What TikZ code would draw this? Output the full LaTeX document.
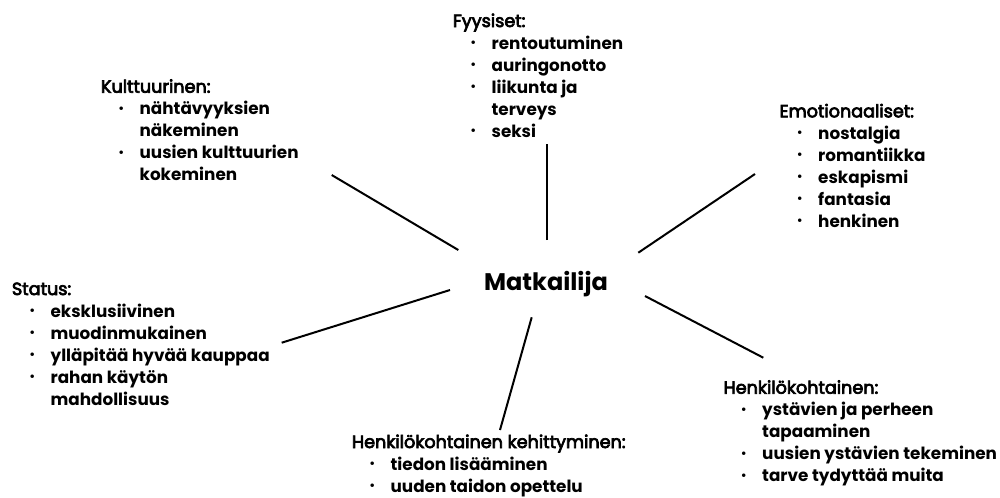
\documentclass[tikz,border=0pt]{standalone}
\usepackage{fontspec}
\usepackage{graphicx,tikz}
\setmainfont{Poppins}
\newfontfamily\hdrfont{Poppins}[FakeBold=4]

\newcommand{\hd}[1]{{\hdrfont\fontsize{13.2}{16.5}\selectfont #1}}
\newcommand{\bul}[1]{\makebox[29pt][l]{\hspace{13pt}\raisebox{0.15ex}{\scalebox{0.85}{\textbullet}}}\textbf{#1}}
\newcommand{\cnt}[1]{\hspace{29pt}\textbf{#1}}

\tikzset{
  group/.style={anchor=base west, align=left, inner sep=0pt,
    font=\fontsize{12.6}{16.5}\selectfont},
  spoke/.style={line width=1.5pt}
}

\begin{document}
\begin{tikzpicture}[x=0.75pt,y=-0.75pt]
  \useasboundingbox (0,0) rectangle (1000,497);

  % Centre
  \node[anchor=base, inner sep=0pt, font=\fontsize{18}{20}\selectfont\bfseries] (matkailija) at (546,290) {Matkailija};

  % Groups (placed at the baseline of their last line)
  \node[group] (fyysiset) at (452.7,137) {\hd{Fyysiset:}\\ \bul{rentoutuminen}\\ \bul{auringonotto}\\ \bul{liikunta ja}\\ \cnt{terveys}\\ \bul{seksi}};
  \node[group] (kulttuuri) at (100.7,180.7) {\hd{Kulttuurinen:}\\ \bul{nähtävyyksien}\\ \cnt{näkeminen}\\ \bul{uusien kulttuurien}\\ \cnt{kokeminen}};
  \node[group] (emot) at (779.3,227.3) {\hd{Emotionaaliset:}\\ \bul{nostalgia}\\ \bul{romantiikka}\\ \bul{eskapismi}\\ \bul{fantasia}\\ \bul{henkinen}};
  \node[group] (status) at (11.7,405) {\hd{Status:}\\ \bul{eksklusiivinen}\\ \bul{muodinmukainen}\\ \bul{ylläpitää hyvää kauppaa}\\ \bul{rahan käytön}\\ \cnt{mahdollisuus}};
  \node[group] (henk) at (723.3,481.7) {\hd{Henkilökohtainen:}\\ \bul{ystävien ja perheen}\\ \cnt{tapaaminen}\\ \bul{uusien ystävien tekeminen}\\ \bul{tarve tydyttää muita}};
  \node[group] (kehitys) at (351.7,492) {\hd{Henkilökohtainen kehittyminen:}\\ \bul{tiedon lisääminen}\\ \bul{uuden taidon opettelu}};

  % Spoke ends
  \coordinate (c-fyy) at (547.3,240);   \coordinate (fyy) at (547.3,144);
  \coordinate (c-kul) at (458.3,250);   \coordinate (kul) at (331.7,175);
  \coordinate (c-emo) at (638.3,252.7); \coordinate (emo) at (755,174);
  \coordinate (c-sta) at (450,290);     \coordinate (sta) at (281.7,342.7);
  \coordinate (c-keh) at (531.7,317.3); \coordinate (keh) at (500,430);
  \coordinate (c-hen) at (645,296);     \coordinate (hen) at (763.3,357.7);

  % Spokes
  \foreach \a/\b in {c-fyy/fyy, c-kul/kul, c-emo/emo, c-sta/sta, c-keh/keh, c-hen/hen}
    \draw[spoke] (\a) -- (\b);
\end{tikzpicture}
\end{document}
